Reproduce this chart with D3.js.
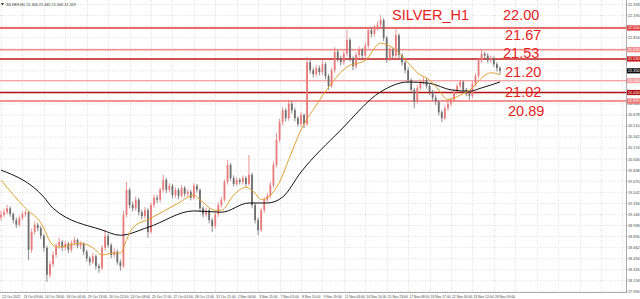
<!DOCTYPE html>
<html><head><meta charset="utf-8">
<script src="https://cdn.jsdelivr.net/npm/d3@7"></script>
<style>html,body{margin:0;padding:0;background:#fff;overflow:hidden}</style>
</head><body><svg id="c" width="640" height="299"></svg>
<script>
// ---------- DATA ----------
const opens = [
19.12,19.16,19.20,19.26,19.17,19.08,19.01,19.11,19.17,19.20,
18.63,18.90,19.01,18.96,18.84,18.66,18.25,18.41,18.55,18.69,
18.75,18.66,18.72,18.63,18.73,18.78,18.69,18.72,18.60,18.50,
18.44,18.53,18.38,18.35,18.66,18.84,18.70,18.55,18.60,18.44,
18.38,19.16,19.54,19.31,19.26,19.39,19.20,19.14,19.23,18.90,
19.31,19.42,19.39,19.54,19.69,19.54,19.60,19.46,19.54,19.45,
19.57,19.48,19.51,19.42,19.60,19.54,19.26,19.17,19.23,19.08,
18.99,19.17,19.31,19.39,19.66,19.92,19.72,19.63,19.69,19.66,
19.72,19.63,19.77,19.31,19.08,18.93,19.23,19.39,19.45,19.61,
19.92,20.30,20.57,20.75,20.63,20.85,20.75,20.63,20.54,20.68,
20.54,21.48,21.36,21.30,21.39,21.33,21.45,21.27,21.12,21.36,
21.64,21.54,21.48,21.61,21.82,21.54,21.42,21.59,21.67,21.58,
21.73,21.97,21.91,22.00,22.05,22.12,21.85,21.54,21.67,21.58,
21.89,21.59,21.48,21.36,21.21,21.06,20.88,21.09,21.18,21.21,
21.12,21.03,20.94,20.88,20.72,20.63,20.78,20.85,20.91,21.03,
21.12,21.18,21.06,21.00,20.97,21.15,21.27,21.51,21.61,21.58,
21.51,21.54,21.45,21.39];
const closes = [
19.16,19.20,19.26,19.17,19.08,19.01,19.11,19.17,19.20,18.63,
18.90,19.01,18.96,18.84,18.66,18.25,18.41,18.55,18.69,18.75,
18.66,18.72,18.63,18.73,18.78,18.69,18.72,18.60,18.50,18.44,
18.53,18.38,18.35,18.66,18.84,18.70,18.55,18.60,18.44,18.38,
19.16,19.54,19.31,19.26,19.39,19.20,19.14,19.23,18.90,19.31,
19.42,19.39,19.54,19.69,19.54,19.60,19.46,19.54,19.45,19.57,
19.48,19.51,19.42,19.60,19.54,19.26,19.17,19.23,19.08,18.99,
19.17,19.31,19.39,19.66,19.92,19.72,19.63,19.69,19.66,19.72,
19.63,19.77,19.31,19.08,18.93,19.23,19.39,19.45,19.61,19.92,
20.30,20.57,20.75,20.63,20.85,20.75,20.63,20.54,20.68,20.54,
21.48,21.36,21.30,21.39,21.33,21.45,21.27,21.12,21.36,21.64,
21.54,21.48,21.61,21.82,21.54,21.42,21.59,21.67,21.58,21.73,
21.97,21.91,22.00,22.05,22.12,21.85,21.54,21.67,21.58,21.89,
21.59,21.48,21.36,21.21,21.06,20.88,21.09,21.18,21.21,21.12,
21.03,20.94,20.88,20.72,20.63,20.78,20.85,20.91,21.03,21.12,
21.18,21.06,21.00,20.97,21.15,21.27,21.51,21.61,21.58,21.51,
21.54,21.45,21.39,21.35];
const highs = [
19.22,19.25,19.31,19.29,19.20,19.12,19.15,19.21,19.23,19.22,
18.95,19.06,19.04,18.99,18.87,18.69,18.46,18.60,18.73,18.81,
18.78,18.76,18.75,18.77,18.82,18.80,18.76,18.74,18.63,18.53,
18.58,18.56,18.42,18.70,18.93,18.87,18.73,18.65,18.63,18.48,
19.22,19.66,19.57,19.36,19.44,19.42,19.24,19.28,19.26,19.35,
19.47,19.46,19.58,19.77,19.72,19.64,19.63,19.58,19.57,19.61,
19.60,19.55,19.54,19.64,19.63,19.56,19.29,19.27,19.26,19.11,
19.21,19.35,19.43,19.70,19.99,19.95,19.76,19.73,19.72,19.76,
19.75,20.07,19.80,19.34,19.12,19.27,19.43,19.49,19.66,19.97,
20.40,20.62,20.80,20.78,20.91,20.88,20.79,20.66,20.72,20.70,
21.56,21.52,21.40,21.44,21.43,21.51,21.48,21.30,21.40,21.71,
21.67,21.58,21.65,21.97,21.85,21.57,21.63,21.72,21.70,21.78,
22.02,22.00,22.05,22.10,22.20,22.15,21.88,21.71,21.70,22.00,
21.92,21.62,21.51,21.40,21.24,21.09,21.13,21.22,21.26,21.24,
21.15,21.06,20.98,20.91,20.75,20.82,20.89,20.95,21.07,21.16,
21.21,21.20,21.09,21.04,21.19,21.31,21.55,21.67,21.64,21.62,
21.58,21.57,21.48,21.42];
const lows = [
19.07,19.12,19.17,19.13,19.03,18.96,18.98,19.08,19.13,18.47,
18.58,18.86,18.91,18.79,18.60,18.14,18.20,18.37,18.51,18.64,
18.61,18.62,18.58,18.59,18.69,18.65,18.64,18.55,18.45,18.39,
18.41,18.33,18.28,18.32,18.62,18.66,18.50,18.51,18.40,18.31,
18.35,19.12,19.26,19.21,19.22,19.15,19.09,19.10,18.81,18.87,
19.27,19.34,19.35,19.50,19.49,19.50,19.41,19.42,19.40,19.42,
19.44,19.44,19.38,19.39,19.50,19.21,19.12,19.13,19.03,18.90,
18.95,19.13,19.27,19.36,19.62,19.68,19.59,19.60,19.62,19.62,
19.59,19.60,19.26,19.03,18.85,18.90,19.19,19.35,19.41,19.57,
19.88,20.26,20.52,20.58,20.59,20.70,20.58,20.50,20.50,20.48,
20.51,21.31,21.25,21.26,21.28,21.29,21.22,21.06,21.09,21.32,
21.49,21.43,21.44,21.57,21.49,21.36,21.38,21.55,21.53,21.54,
21.69,21.86,21.87,21.96,22.01,21.80,21.47,21.50,21.53,21.55,
21.54,21.43,21.31,21.16,21.01,20.78,20.85,21.05,21.14,21.08,
20.98,20.89,20.83,20.67,20.57,20.60,20.74,20.81,20.87,20.99,
21.08,21.02,20.96,20.91,20.93,21.11,21.23,21.47,21.54,21.47,
21.47,21.41,21.34,21.29];

// moving averages: [bar index, price]
const maFast = [[0,19.69],[8,19.26],[13,19.04],[17,18.70],[19,18.67],[26,18.73],[30,18.66],[33,18.55],[37,18.58],[39,18.58],[41,18.78],[43,18.96],[49,19.11],[58,19.34],[63,19.46],[65,19.39],[70,19.23],[72,19.23],[76,19.46],[80,19.58],[83,19.49],[85,19.39],[87,19.42],[91,19.66],[94,20.00],[98,20.45],[103,20.83],[108,21.16],[113,21.41],[119,21.51],[124,21.77],[128,21.70],[133,21.47],[136,21.32],[140,21.21],[143,21.06],[146,20.91],[150,20.98],[154,21.09],[157,21.24],[160,21.32],[163,21.29]];
const maSlow = [[0,19.84],[14,19.43],[17,19.26],[33,18.93],[39,18.85],[48,18.97],[63,19.22],[72,19.20],[81,19.34],[87,19.34],[92,19.43],[98,19.81],[111,20.45],[124,21.03],[133,21.18],[140,21.16],[147,21.06],[153,21.04],[157,21.09],[163,21.18]];

const dateLabels = ["12 Oct 2022","13 Oct 09:00","14 Oct 18:00","18 Oct 04:00","19 Oct 13:00","20 Oct 22:00","24 Oct 08:00","25 Oct 17:00","27 Oct 02:00","28 Oct 11:00","31 Oct 21:00","2 Nov 06:00","3 Nov 15:00","7 Nov 01:00","8 Nov 10:00","9 Nov 19:00","11 Nov 04:00","14 Nov 14:00","15 Nov 23:00","17 Nov 08:00","18 Nov 17:00","22 Nov 03:00","23 Nov 12:00","28 Nov 09:00"];
const priceTicks = ["17.990","18.158","18.326","18.494","18.662","18.830","18.998","19.166","19.334","19.502","19.670","19.838","20.006","20.174","20.342","20.510","20.678","20.846","21.014","21.182","21.350","21.518","21.686","21.854","22.022","22.190","22.358"];

const levels = [22.00, 21.67, 21.53, 21.20, 21.02, 20.89];
const levelLabels = ["22.00","21.67","21.53","21.20","21.02","20.89"];
const levelAxisLabels = ["22.000","21.670","21.530","21.200","21.020","20.890"];
const levelColors = ["#e23b3b","#f28b8b","#c41818","#f4a2a2","#b01010","#ee6f6f"];
const chartTitle = "SILVER_H1";
const headerText = "SILVER,H1  21.306 21.345 21.300 21.329";
const lastPrice = 21.35;
const barsPerLabel = 7;

// ---------- LAYOUT ----------
const plotRight = 626, plotBottom = 292;
const svg = d3.select("#c");
svg.append("rect").attr("width",640).attr("height",299).attr("fill","#fff");

const x = d3.scaleLinear().domain([0, 204.5]).range([1, 627]);
const y = d3.scaleLinear().domain([17.99, 22.358]).range([291.8, 4.5]);

const grid = svg.append("g").attr("stroke","#c9c9c9").attr("stroke-width",0.6).attr("stroke-dasharray","1,1.5");
priceTicks.forEach(t => {
  const yy = y(+t);
  grid.append("line").attr("x1",0).attr("x2",plotRight).attr("y1",yy).attr("y2",yy);
});
for (let k = 0; x(k*barsPerLabel) < plotRight; k++) {
  const xx = Math.round(x(k*barsPerLabel)) + 0.5;
  grid.append("line").attr("x1",xx).attr("x2",xx).attr("y1",0).attr("y2",plotBottom);
}

// level lines
const lv = svg.append("g");
levels.forEach((p,i) => {
  lv.append("line").attr("x1",0).attr("x2",plotRight).attr("y1",y(p)).attr("y2",y(p))
    .attr("stroke",levelColors[i]).attr("stroke-width",1.4);
});

// candles
const bars = d3.range(closes.length);
const cg = svg.append("g");
const upC = "#e77a7a", dnC = "#6e6e6e";
cg.selectAll("line.w").data(bars).join("line")
  .attr("x1",i=>x(i)).attr("x2",i=>x(i))
  .attr("y1",i=>y(highs[i])).attr("y2",i=>y(lows[i]))
  .attr("stroke",i=>closes[i]>=opens[i]?upC:dnC).attr("stroke-width",0.8);
cg.selectAll("rect").data(bars).join("rect")
  .attr("x",i=>x(i)-0.9).attr("width",1.8)
  .attr("y",i=>Math.min(y(opens[i]),y(closes[i])))
  .attr("height",i=>Math.max(0.8,Math.abs(y(opens[i])-y(closes[i]))))
  .attr("fill",i=>closes[i]>=opens[i]?upC:dnC);

// moving averages
const line = d3.line().x(d=>x(d[0])).y(d=>y(d[1])).curve(d3.curveMonotoneX);
svg.append("path").attr("d",line(maSlow)).attr("fill","none").attr("stroke","#111").attr("stroke-width",1);
svg.append("path").attr("d",line(maFast)).attr("fill","none").attr("stroke","#e0a030").attr("stroke-width",1);

// annotation texts
const font = "'Liberation Sans', Arial, sans-serif";
const txt = svg.append("g").attr("font-family",font).attr("font-size",14.5).attr("fill","#e5231d");
txt.append("text").attr("x",392).attr("y",20).text(chartTitle);
const annoPos = [[503,20],[505,40],[503,58],[505,76.5],[505,97],[508,116]];
levelLabels.forEach((t,i)=>txt.append("text").attr("x",annoPos[i][0]).attr("y",annoPos[i][1]).text(t));

// axes
svg.append("line").attr("x1",plotRight+0.5).attr("x2",plotRight+0.5).attr("y1",0).attr("y2",plotBottom+0.5).attr("stroke","#888").attr("stroke-width",0.7);
svg.append("line").attr("x1",0).attr("x2",plotRight+0.5).attr("y1",plotBottom+0.5).attr("y2",plotBottom+0.5).attr("stroke","#888").attr("stroke-width",0.7);
const ax = svg.append("g").attr("font-family",font).attr("font-size",3.8).attr("fill","#444");
priceTicks.forEach(t => {
  ax.append("text").attr("x",plotRight+2).attr("y",y(+t)+1.3).text(t);
  ax.append("line").attr("x1",plotRight).attr("x2",plotRight+1.5).attr("y1",y(+t)).attr("y2",y(+t)).attr("stroke","#888").attr("stroke-width",0.5);
});
const bx = svg.append("g").attr("font-family",font).attr("font-size",3.8);
levels.forEach((p,i)=>{
  bx.append("rect").attr("x",plotRight+1).attr("y",y(p)-2.6).attr("width",13).attr("height",5.2).attr("fill",levelColors[i]);
  bx.append("text").attr("x",plotRight+2).attr("y",y(p)+1.3).attr("fill","#fff").text(levelAxisLabels[i]);
});
bx.append("rect").attr("x",plotRight+1).attr("y",y(lastPrice)-2.6).attr("width",13).attr("height",5.2).attr("fill","#111");
bx.append("text").attr("x",plotRight+2).attr("y",y(lastPrice)+1.3).attr("fill","#fff").text(lastPrice.toFixed(3));

const dx = svg.append("g").attr("font-family",font).attr("font-size",3.4).attr("fill","#444");
dateLabels.forEach((t,k)=>{
  dx.append("text").attr("x",x(k*barsPerLabel)+1).attr("y",297.5).text(t);
});
// header
const hd = svg.append("g").attr("font-family",font).attr("font-size",3.8).attr("fill","#333");
hd.append("path").attr("d","M1,3 L4,3 L2.5,5.5 Z").attr("fill","#333");
hd.append("text").attr("x",6).attr("y",5.5).text(headerText);
</script></body></html>
